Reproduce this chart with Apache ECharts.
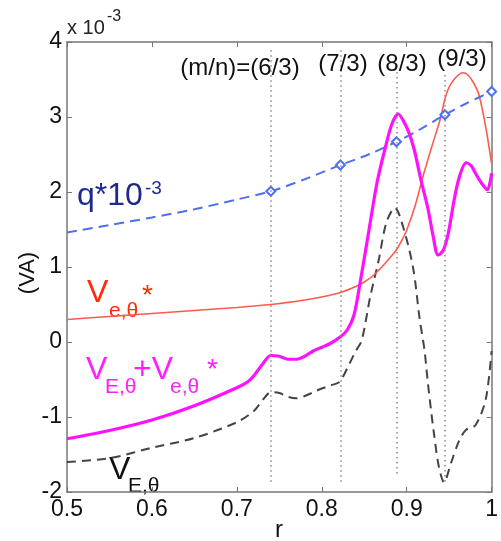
<html>
<head>
    <meta charset='utf-8'/>
    <title>Rotation velocity profiles</title>
    <style>
        body {
            margin: 0;
            padding: 0;
            background: #fff;
        }

        #chart {
            width: 501px;
            height: 541px;
        }
    </style>
    <script src="https://cdn.jsdelivr.net/npm/echarts@6/dist/echarts.min.js"></script>
</head>
<body>
<div id='chart'></div>
<script type="text/javascript">
    // q*10^-3 (blue dashed)
    var rQ = [0.50, 0.55, 0.60, 0.65, 0.70, 0.74, 0.78, 0.822, 0.855, 0.888, 0.915, 0.945, 0.97, 1.0];
    var q = [1.46, 1.56, 1.66, 1.77, 1.90, 2.01, 2.17, 2.36, 2.50, 2.67, 2.83, 3.03, 3.18, 3.34];
    var qMarkR = [0.74, 0.822, 0.888, 0.945, 1.0];

    // V_e,theta* (red)
    var rVe = [0.50, 0.55, 0.60, 0.65, 0.70, 0.74, 0.78, 0.80, 0.822, 0.84, 0.85, 0.86, 0.87, 0.88, 0.888,
        0.895, 0.90, 0.91, 0.92, 0.93, 0.94, 0.945, 0.95, 0.958, 0.966, 0.972, 0.978, 0.985, 0.993, 1.0];
    var ve = [0.30, 0.34, 0.38, 0.42, 0.46, 0.50, 0.56, 0.60, 0.66, 0.74, 0.80, 0.88, 0.99, 1.12, 1.23,
        1.37, 1.49, 1.82, 2.24, 2.62, 2.99, 3.24, 3.40, 3.53, 3.59, 3.56, 3.47, 3.30, 2.87, 2.38];

    // V_E,theta + V_e,theta* (magenta)
    var rTot = [0.50, 0.55, 0.60, 0.65, 0.70, 0.713, 0.72, 0.73, 0.74, 0.75, 0.76, 0.77, 0.78, 0.79, 0.80,
        0.81, 0.822, 0.83, 0.838, 0.845, 0.855, 0.865, 0.875, 0.883, 0.89, 0.897, 0.903, 0.909, 0.917, 0.925,
        0.931, 0.937, 0.943, 0.949, 0.956, 0.962, 0.97, 0.976, 0.981, 0.988, 0.995, 1.0];
    var tot = [-1.29, -1.18, -1.04, -0.85, -0.61, -0.53, -0.45, -0.30, -0.18, -0.19, -0.23, -0.23, -0.19, -0.12, -0.07,
        -0.02, 0.07, 0.16, 0.36, 0.78, 1.45, 2.12, 2.60, 2.92, 3.04, 2.93, 2.78, 2.56, 2.15, 1.78,
        1.42, 1.16, 1.22, 1.45, 1.90, 2.20, 2.39, 2.35, 2.25, 2.12, 2.03, 2.25];

    // V_E,theta (black dashed)
    var rVE = [0.50, 0.55, 0.60, 0.65, 0.70, 0.72, 0.73, 0.74, 0.75, 0.76, 0.77, 0.78, 0.79, 0.80, 0.81,
        0.821, 0.833, 0.84, 0.847, 0.857, 0.867, 0.876, 0.886, 0.897, 0.908, 0.915, 0.921, 0.925, 0.932, 0.938,
        0.944, 0.952, 0.962, 0.97, 0.981, 0.993, 1.0];
    var vE = [-1.60, -1.55, -1.41, -1.28, -1.07, -0.92, -0.78, -0.67, -0.68, -0.73, -0.75, -0.72, -0.67, -0.62, -0.58,
        -0.53, -0.28, -0.12, 0.02, 0.60, 1.09, 1.59, 1.79, 1.49, 0.96, 0.33, -0.11, -0.55, -1.21, -1.67,
        -1.87, -1.62, -1.31, -1.17, -1.11, -0.77, -0.12];

    // rational surfaces (dotted guides)
    var modeR = [0.74, 0.822, 0.888, 0.945];
    var modeLabels = ['(m/n)=(6/3)', '(7/3)', '(8/3)', '(9/3)'];
    var guideTop = [3.89, 3.89, 3.6, 3.56];
    var guideBottom = [-1.91, -1.91, -1.8, -1.87];

    function pairs(xs, ys) {
        return xs.map(function (x, i) {
            return [x, ys[i]];
        });
    }

    var chart = echarts.init(document.getElementById('chart'));
    var tickFont = "'Liberation Sans Narrow', 'Liberation Sans', Arial, sans-serif";
    var labelFont = "'Liberation Sans', Arial, sans-serif";
    var axisColor = '#777';

    function frameAxis(extra) {
        return Object.assign({
            type: 'value',
            axisLine: {show: true, onZero: false, lineStyle: {color: axisColor, width: 1.5}},
            axisTick: {show: true, inside: true, length: 5, lineStyle: {color: axisColor}},
            splitLine: {show: false}
        }, extra);
    }

    var qData = pairs(rQ, q).map(function (p) {
        var mark = qMarkR.indexOf(p[0]) >= 0;
        return {value: p, symbol: mark ? 'emptyDiamond' : 'none', symbolSize: mark ? 9 : 0};
    });

    var guides = modeR.map(function (r, i) {
        return [{coord: [r, guideTop[i]]}, {coord: [r, guideBottom[i]]}];
    });

    var graphics = [
        {type: 'text', left: 67, top: 18, style: {text: 'x 10', font: '20px ' + labelFont, fill: '#222'}},
        {type: 'text', left: 107, top: 9, style: {text: '-3', font: '16px ' + labelFont, fill: '#222'}},
        {type: 'text', x: 28, y: 273, rotation: Math.PI / 2,
            style: {text: '(VA)', font: '22px ' + labelFont, fill: '#111', align: 'center', verticalAlign: 'middle'}},
        {type: 'text', x: 279, y: 530,
            style: {text: 'r', font: '24px ' + labelFont, fill: '#111', align: 'center', verticalAlign: 'middle'}},

        // q*10^-3
        {type: 'text', x: 77, y: 196, style: {text: 'q*10', font: '32px ' + labelFont, fill: '#1c2a8c', verticalAlign: 'middle'}},
        {type: 'text', x: 145, y: 189, style: {text: '-3', font: '19px ' + labelFont, fill: '#1c2a8c', verticalAlign: 'middle'}},

        // V_e,theta*
        {type: 'text', x: 87, y: 293, style: {text: 'V', font: '32px ' + labelFont, fill: '#ff2a0a', verticalAlign: 'middle'}},
        {type: 'text', x: 109, y: 311, style: {text: 'e,θ', font: '21px ' + labelFont, fill: '#ff2a0a', verticalAlign: 'middle'}},
        {type: 'text', x: 142, y: 296, style: {text: '*', font: '28px ' + labelFont, fill: '#ff2a0a', verticalAlign: 'middle'}},

        // V_E,theta + V_e,theta*
        {type: 'text', x: 86, y: 370, style: {text: 'V', font: '32px ' + labelFont, fill: '#ff1eff', verticalAlign: 'middle'}},
        {type: 'text', x: 105, y: 387, style: {text: 'E,θ', font: '21px ' + labelFont, fill: '#ff1eff', verticalAlign: 'middle'}},
        {type: 'text', x: 133, y: 370, style: {text: '+V', font: '32px ' + labelFont, fill: '#ff1eff', verticalAlign: 'middle'}},
        {type: 'text', x: 170, y: 387, style: {text: 'e,θ', font: '21px ' + labelFont, fill: '#ff1eff', verticalAlign: 'middle'}},
        {type: 'text', x: 207, y: 370, style: {text: '*', font: '28px ' + labelFont, fill: '#ff1eff', verticalAlign: 'middle'}},

        // V_E,theta
        {type: 'text', x: 109, y: 470, style: {text: 'V', font: '32px ' + labelFont, fill: '#111', verticalAlign: 'middle'}},
        {type: 'text', x: 128, y: 486, style: {text: 'E,θ', font: '21px ' + labelFont, fill: '#111', verticalAlign: 'middle'}}
    ];

    // mode labels above the dotted guides
    var modeLabelPos = [[240, 68], [343, 64], [402, 64], [462, 59]];
    modeLabels.forEach(function (t, i) {
        graphics.push({
            type: 'text', x: modeLabelPos[i][0], y: modeLabelPos[i][1], z: 10,
            style: {text: t, font: '24px ' + tickFont, fill: '#111', align: 'center', verticalAlign: 'middle'}
        });
    });

    var option = {
        animation: false,
        backgroundColor: '#fff',
        grid: {left: 67, right: 5, top: 42, bottom: 49},
        xAxis: [
            frameAxis({
                position: 'bottom', min: 0.5, max: 1, interval: 0.1,
                axisLabel: {fontSize: 23, fontFamily: tickFont, color: '#111', margin: 6}
            }),
            frameAxis({position: 'top', min: 0.5, max: 1, interval: 0.1, axisLabel: {show: false}})
        ],
        yAxis: [
            frameAxis({
                position: 'left', min: -2, max: 4, interval: 1,
                axisLabel: {fontSize: 23, fontFamily: tickFont, color: '#111', margin: 5}
            }),
            frameAxis({position: 'right', min: -2, max: 4, interval: 1, axisLabel: {show: false}})
        ],
        series: [
            {
                name: 'VE',
                type: 'line',
                data: pairs(rVE, vE),
                smooth: 0.3,
                showSymbol: false,
                lineStyle: {color: '#444', width: 2, type: [9, 6]},
                markLine: {
                    silent: true,
                    symbol: 'none',
                    label: {show: false},
                    lineStyle: {color: '#888', width: 1.5, type: [1.5, 3.5]},
                    data: guides
                }
            },
            {
                name: 'Ve*',
                type: 'line',
                data: pairs(rVe, ve),
                smooth: 0.3,
                showSymbol: false,
                lineStyle: {color: '#ff5a4e', width: 1.6}
            },
            {
                name: 'q',
                type: 'line',
                data: qData,
                smooth: 0.3,
                showSymbol: true,
                itemStyle: {color: '#4f6ff0', borderWidth: 1.5},
                lineStyle: {color: '#4f6ff0', width: 2, type: [10, 6]}
            },
            {
                name: 'VE+Ve*',
                type: 'line',
                data: pairs(rTot, tot),
                smooth: 0.3,
                showSymbol: false,
                lineStyle: {color: '#ff11ff', width: 3.2}
            }
        ],
        graphic: graphics
    };

    chart.setOption(option);
</script>
</body>
</html>
